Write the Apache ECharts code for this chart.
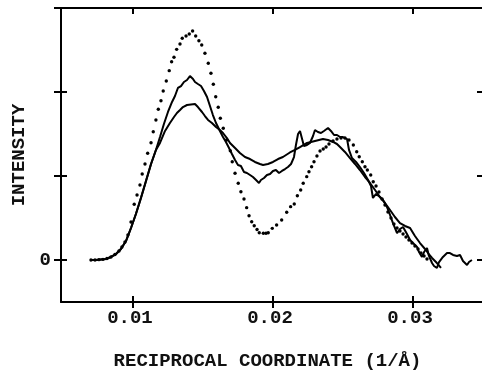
<!DOCTYPE html>
<html>
<head>
<meta charset="utf-8">
<script src="https://cdn.jsdelivr.net/npm/echarts@6/dist/echarts.min.js"></script>
<style>
  html, body { margin: 0; padding: 0; background: #fff; }
  #chart { width: 482px; height: 374px; }
</style>
</head>
<body>
<div id="chart"></div>
<script>
// shared low-q rise (both solid curves sit on top of each other here)
const riseX = [0.00700, 0.00736, 0.00771, 0.00807, 0.00843, 0.00879, 0.00914, 0.00950, 0.00986, 0.01021, 0.01057, 0.01093, 0.01129, 0.01164];
const riseY = [0, 0, 0.006, 0.012, 0.036, 0.071, 0.131, 0.226, 0.381, 0.548, 0.738, 0.940, 1.143, 1.310];

// dotted curve: one dot per plotted point
const dottedX = [0.00700, 0.00729, 0.00757, 0.00786, 0.00814, 0.00843, 0.00871, 0.00900, 0.00921, 0.00943,
  0.00964, 0.00986, 0.01009, 0.01029, 0.01050, 0.01066, 0.01086, 0.01105, 0.01129, 0.01145,
  0.01164, 0.01181, 0.01200, 0.01216, 0.01238, 0.01259, 0.01276, 0.01293, 0.01312, 0.01336,
  0.01352, 0.01379, 0.01402, 0.01426, 0.01448, 0.01471, 0.01491, 0.01514, 0.01538, 0.01557,
  0.01574, 0.01591, 0.01609, 0.01624, 0.01645, 0.01669, 0.01695, 0.01709, 0.01729, 0.01752,
  0.01771, 0.01793, 0.01812, 0.01829, 0.01848, 0.01866, 0.01886, 0.01902, 0.01931, 0.01950,
  0.01966, 0.01995, 0.02026, 0.02062, 0.02098, 0.02126, 0.02152, 0.02174, 0.02198, 0.02216,
  0.02241, 0.02257, 0.02276, 0.02293, 0.02314, 0.02336, 0.02359, 0.02379, 0.02400, 0.02429,
  0.02457, 0.02486, 0.02514, 0.02543, 0.02574, 0.02598, 0.02616, 0.02638, 0.02657, 0.02674,
  0.02698, 0.02716, 0.02736, 0.02757, 0.02779, 0.02800, 0.02821, 0.02843, 0.02864, 0.02886,
  0.02907, 0.02929, 0.02950, 0.02971, 0.02993, 0.03014, 0.03036, 0.03057, 0.03079, 0.03100];
const dottedY = [0, 0, 0.004, 0.008, 0.018, 0.036, 0.065, 0.107, 0.155, 0.214,
  0.298, 0.452, 0.663, 0.774, 0.893, 1.024, 1.143, 1.270, 1.396, 1.527,
  1.667, 1.794, 1.896, 2.012, 2.131, 2.254, 2.361, 2.413, 2.508, 2.571,
  2.639, 2.667, 2.690, 2.726, 2.667, 2.611, 2.560, 2.461, 2.342, 2.223,
  2.092, 1.944, 1.818, 1.687, 1.568, 1.429, 1.301, 1.170, 1.032, 0.913,
  0.813, 0.726, 0.623, 0.527, 0.456, 0.408, 0.363, 0.325, 0.318, 0.318,
  0.325, 0.377, 0.417, 0.476, 0.568, 0.635, 0.667, 0.765, 0.833, 0.913,
  0.992, 1.051, 1.111, 1.170, 1.238, 1.298, 1.321, 1.345, 1.381, 1.417,
  1.440, 1.452, 1.452, 1.429, 1.369, 1.289, 1.230, 1.170, 1.111, 1.071,
  1.012, 0.932, 0.881, 0.810, 0.726, 0.655, 0.571, 0.500, 0.429, 0.381,
  0.345, 0.310, 0.274, 0.238, 0.202, 0.167, 0.131, 0.083, 0.048, 0.012];

// noisy solid curve with the higher first peak
const upperX = [0.01193, 0.01221, 0.01250, 0.01279, 0.01300, 0.01321, 0.01343, 0.01364, 0.01386, 0.01407,
  0.01429, 0.01443, 0.01464, 0.01486, 0.01507, 0.01529, 0.01550, 0.01571, 0.01593, 0.01621,
  0.01643, 0.01664, 0.01686, 0.01707, 0.01729, 0.01750, 0.01771, 0.01793, 0.01814, 0.01836,
  0.01857, 0.01879, 0.01900, 0.01914, 0.01936, 0.01957, 0.01979, 0.02000, 0.02021, 0.02043,
  0.02064, 0.02086, 0.02107, 0.02129, 0.02150, 0.02164, 0.02179, 0.02193, 0.02207, 0.02221,
  0.02243, 0.02264, 0.02286, 0.02300, 0.02321, 0.02343, 0.02364, 0.02393, 0.02414, 0.02436,
  0.02457, 0.02479, 0.02500, 0.02529, 0.02543, 0.02564, 0.02593, 0.02621, 0.02650, 0.02679,
  0.02700, 0.02714, 0.02736, 0.02764, 0.02786, 0.02814, 0.02836, 0.02857, 0.02886, 0.02907,
  0.02929, 0.02957, 0.02979, 0.03000, 0.03029, 0.03043, 0.03064, 0.03079, 0.03100, 0.03114,
  0.03136, 0.03150, 0.03171, 0.03186, 0.03214, 0.03243, 0.03264, 0.03286, 0.03314, 0.03336,
  0.03357, 0.03386, 0.03400, 0.03421];
const upperY = [1.464, 1.619, 1.762, 1.881, 1.952, 2.048, 2.071, 2.119, 2.143, 2.190,
  2.155, 2.119, 2.095, 2.071, 2.012, 1.940, 1.833, 1.726, 1.631, 1.536,
  1.464, 1.405, 1.333, 1.262, 1.190, 1.131, 1.119, 1.048, 1.036, 1.012,
  0.988, 0.952, 0.917, 0.952, 0.976, 1.012, 1.024, 1.060, 1.071, 1.036,
  1.060, 1.083, 1.107, 1.143, 1.226, 1.369, 1.500, 1.536, 1.524, 1.357,
  1.369, 1.393, 1.476, 1.548, 1.524, 1.512, 1.536, 1.571, 1.536, 1.488,
  1.488, 1.464, 1.464, 1.440, 1.310, 1.214, 1.167, 1.107, 1.036, 0.952,
  0.881, 0.738, 0.786, 0.750, 0.714, 0.631, 0.536, 0.440, 0.321, 0.369,
  0.393, 0.310, 0.238, 0.202, 0.155, 0.095, 0.036, 0.095, 0.143, 0.048,
  -0.036, -0.071, -0.095, -0.024, 0.036, 0.083, 0.083, 0.060, 0.048, 0.060,
  -0.012, -0.060, -0.024, 0];

// smoother solid curve with the lower first peak
const lowerX = [0.01193, 0.01229, 0.01264, 0.01293, 0.01314, 0.01336, 0.01357, 0.01386, 0.01414, 0.01443,
  0.01464, 0.01493, 0.01514, 0.01536, 0.01564, 0.01593, 0.01621, 0.01643, 0.01671, 0.01693,
  0.01729, 0.01764, 0.01800, 0.01836, 0.01871, 0.01907, 0.01929, 0.01964, 0.02000, 0.02036,
  0.02071, 0.02121, 0.02157, 0.02193, 0.02243, 0.02300, 0.02357, 0.02393, 0.02429, 0.02457,
  0.02479, 0.02514, 0.02550, 0.02586, 0.02621, 0.02657, 0.02693, 0.02729, 0.02764, 0.02800,
  0.02836, 0.02871, 0.02907, 0.02943, 0.02979, 0.03014, 0.03050, 0.03086, 0.03107, 0.03136,
  0.03171, 0.03200];
const lowerY = [1.393, 1.536, 1.631, 1.702, 1.750, 1.786, 1.821, 1.845, 1.851, 1.857,
  1.821, 1.762, 1.714, 1.667, 1.631, 1.583, 1.548, 1.512, 1.452, 1.393,
  1.333, 1.274, 1.226, 1.202, 1.167, 1.143, 1.131, 1.143, 1.167, 1.202,
  1.226, 1.280, 1.310, 1.345, 1.393, 1.417, 1.440, 1.429, 1.405, 1.381,
  1.345, 1.286, 1.214, 1.143, 1.071, 0.988, 0.917, 0.833, 0.750, 0.679,
  0.595, 0.512, 0.440, 0.405, 0.381, 0.286, 0.202, 0.131, 0.083, 0.024,
  -0.036, -0.095];

const xTicks = [0.01, 0.02, 0.03];
const yTicks = [0, 1, 2, 3];
const yLabels = [0];

const X_MIN = 0.00486;
const X_MAX = 0.035;
const Y_MIN = -0.5;
const Y_MAX = 3;

const INK = "#000";
const FONT = "Liberation Mono";

const pairs = (xs, ys) => xs.map((x, i) => [x, ys[i]]);

const chart = echarts.init(document.getElementById("chart"), null, { renderer: "canvas" });

const tick = (inside, length, values) => ({
  show: true,
  inside,
  length,
  customValues: values,
  lineStyle: { color: INK, width: 2 },
});

const baseX = {
  type: "value",
  min: X_MIN,
  max: X_MAX,
  splitLine: { show: false },
  axisLine: { show: true, onZero: false, lineStyle: { color: INK, width: 2 } },
  axisLabel: { show: false },
};
const baseY = {
  type: "value",
  min: Y_MIN,
  max: Y_MAX,
  splitLine: { show: false },
  axisLine: { show: true, onZero: false, lineStyle: { color: INK, width: 2 } },
  axisLabel: { show: false },
};
const textStyle = { color: "#111", fontFamily: FONT, fontWeight: "bold", fontSize: 19 };

const option = {
  animation: false,
  backgroundColor: "#fff",
  grid: { left: 61, right: -1, top: 8, bottom: 72, outerBoundsMode: "none" },
  xAxis: [
    {
      ...baseX,
      position: "bottom",
      axisTick: tick(false, 6, xTicks),
      axisLabel: {
        show: true,
        customValues: xTicks,
        margin: 7,
        ...textStyle,
        padding: [0, 6, 0, 0],
        formatter: (v) => v.toFixed(2),
      },
      name: "RECIPROCAL COORDINATE (1/Å)",
      nameLocation: "middle",
      nameGap: 50,
      nameTextStyle: { ...textStyle, padding: [0, 9, 0, 0] },
    },
    {
      ...baseX,
      position: "bottom",
      axisLine: { show: false, onZero: false },
      axisTick: tick(true, 6, xTicks),
    },
    {
      ...baseX,
      position: "top",
      axisTick: tick(true, 6, xTicks),
    },
  ],
  yAxis: [
    {
      ...baseY,
      position: "left",
      axisTick: tick(false, 7, yTicks),
      axisLabel: {
        show: true,
        customValues: yLabels,
        margin: 10,
        ...textStyle,
        formatter: (v) => String(v),
      },
      name: "INTENSITY",
      nameLocation: "middle",
      nameGap: 30,
      nameTextStyle: textStyle,
    },
    {
      ...baseY,
      position: "left",
      axisLine: { show: false, onZero: false },
      axisTick: tick(true, 6, yTicks),
    },
    {
      ...baseY,
      position: "right",
      axisLine: { show: false, onZero: false },
      axisTick: tick(true, 6, yTicks),
    },
  ],
  series: [
    {
      name: "dotted",
      type: "scatter",
      data: pairs(dottedX, dottedY),
      symbol: "circle",
      symbolSize: 3.4,
      itemStyle: { color: INK, opacity: 1 },
    },
    {
      name: "upper",
      type: "line",
      data: pairs(riseX.concat(upperX), riseY.concat(upperY)),
      showSymbol: false,
      lineStyle: { color: INK, width: 2 },
    },
    {
      name: "lower",
      type: "line",
      data: pairs(riseX.concat(lowerX), riseY.concat(lowerY)),
      showSymbol: false,
      lineStyle: { color: INK, width: 2 },
    },
  ],
};

chart.setOption(option);
</script>
</body>
</html>
